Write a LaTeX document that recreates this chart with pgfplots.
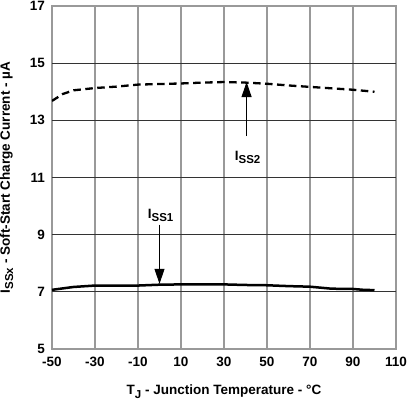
\documentclass[border=0pt]{standalone}
\usepackage{pgfplots}
\pgfplotsset{compat=1.18}
\usepackage{fontspec}
\setmainfont{Liberation Sans}
\usetikzlibrary{arrows.meta}
\definecolor{vgrid}{HTML}{999999}
\definecolor{hgrid}{HTML}{333333}
\newcommand{\sub}[1]{\raisebox{-0.45ex}{\fontsize{11.5}{12}\selectfont #1}}
\begin{document}
\begin{tikzpicture}
\begin{axis}[
    at={(0,0)}, anchor=south west,
    scale only axis,
    width=344pt, height=343pt,
    xmin=-50, xmax=110, ymin=5, ymax=17,
    xtick={-50,-30,...,110}, ytick={5,7,...,17},
    major tick style={draw=none},
    x axis line style={hgrid, line width=1pt},
    y axis line style={vgrid, line width=1.5pt},
    xmajorgrids=true,
    x grid style={vgrid, line width=1.5pt, solid},
    /pgf/number format/assume math mode=true,
    ticklabel style={font=\fontsize{13.5}{15}\selectfont\bfseries},
    xticklabel style={yshift=-5pt},
    yticklabel style={xshift=-3.5pt},
    label style={font=\fontsize{13.5}{15}\selectfont\bfseries},
    xlabel={T\sub{J} - Junction Temperature - °C},
    ylabel={I\sub{SSx} - Soft-Start Charge Current - µA},
    xlabel style={at={(axis description cs:0.5,-0.1341)}, anchor=base},
    ylabel style={at={(axis description cs:-0.1221,0.5)}, anchor=base},
]
% horizontal grid lines (dark), drawn by hand
\pgfplotsinvokeforeach{7,9,11,13,15}{
  \draw[hgrid, line width=1pt] (axis cs:-50,#1) -- (axis cs:110,#1);
}
% I_SS2
\addplot[black, line width=2.3pt, dash pattern=on 7.5pt off 4.5pt] coordinates {
(-50,13.68) (-45,13.92) (-40,14.05) (-30,14.13) (-20,14.18) (-10,14.25)
(0,14.27) (10,14.29) (20,14.32) (30,14.34) (40,14.32) (50,14.28)
(60,14.22) (70,14.17) (80,14.12) (90,14.07) (100,14.00)};
% I_SS1
\addplot[black, line width=2.5pt] coordinates {
(-50,7.07) (-40,7.17) (-30,7.22) (-20,7.22) (-10,7.22) (0,7.25)
(10,7.26) (20,7.26) (30,7.26) (40,7.24) (50,7.23) (60,7.20)
(70,7.18) (80,7.11) (90,7.10) (95,7.07) (100,7.06)};
\draw[line width=1pt, -{Triangle[length=15pt,width=10pt]}] (axis cs:40.5,12.45) -- (axis cs:40.5,14.34);
\node[fill=white, inner sep=2pt, font=\fontsize{13.5}{15}\selectfont\bfseries] at (axis cs:41,11.7) {I\sub{SS2}};
\draw[line width=1pt, -{Triangle[length=15pt,width=10pt]}] (axis cs:0,9.35) -- (axis cs:0,7.28);
\node[fill=white, inner sep=2pt, font=\fontsize{13.5}{15}\selectfont\bfseries] at (axis cs:0.5,9.68) {I\sub{SS1}};
\end{axis}
\pgfresetboundingbox
\path (-52pt,-51pt) rectangle (355pt,349pt);
\end{tikzpicture}
\end{document}
